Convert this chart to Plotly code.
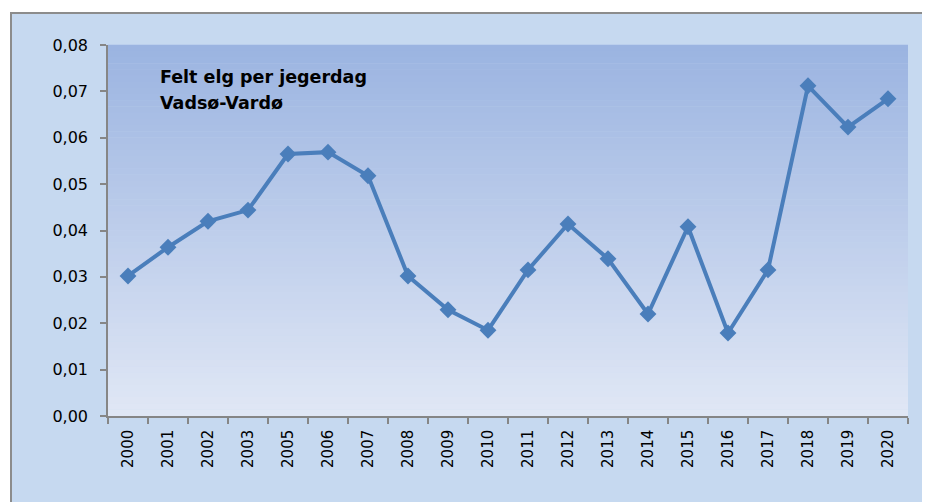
import plotly.graph_objects as go

years = ["2000", "2001", "2002", "2003", "2005", "2006", "2007", "2008", "2009", "2010",
         "2011", "2012", "2013", "2014", "2015", "2016", "2017", "2018", "2019", "2020"]
values = [0.0302, 0.0364, 0.0420, 0.0444, 0.0565, 0.0569, 0.0518, 0.0302, 0.0229, 0.0185,
          0.0315, 0.0414, 0.0339, 0.0220, 0.0408, 0.0179, 0.0315, 0.0712, 0.0623, 0.0684]
y_ticks = [0.00, 0.01, 0.02, 0.03, 0.04, 0.05, 0.06, 0.07, 0.08]
title_lines = ["Felt elg per jegerdag", "Vadsø-Vardø"]

OFF = 8  # page body margin
W, H = 930 - OFF, 502 - OFF
# target screen positions of plot area
SX0, SX1, SY0, SY1 = 108, 908, 45, 416
L, R, T, B = SX0 - OFF, W - (SX1 - OFF), SY0 - OFF, H - (SY1 - OFF)
pw, ph = W - L - R, H - T - B

def px_x(p):  # screen px -> paper x
    return (p - OFF - L) / pw

def px_y(p):  # screen px -> paper y
    return (H - B - (p - OFF)) / ph

FONT = "DejaVu Sans, Open Sans, sans-serif"

fig = go.Figure()
fig.add_trace(go.Scatter(
    x=years, y=values, mode="lines+markers",
    line=dict(color="#4a7ebb", width=4),
    marker=dict(symbol="diamond", size=13, color="#4a7ebb"),
    showlegend=False, cliponaxis=False,
))

shapes = []
shapes.append(dict(type="rect", xref="paper", yref="paper",
                   x0=px_x(11), x1=px_x(950), y0=px_y(530), y1=px_y(13),
                   fillcolor="#c6d9f0", line=dict(color="#8c8c8c", width=2), layer="below"))
top = (0x9b, 0xb4, 0xe1)
bot = (0xe0, 0xe7, 0xf5)
n = 60
for i in range(n):
    f = i / (n - 1)
    c = tuple(round(top[k] + (bot[k] - top[k]) * f) for k in range(3))
    shapes.append(dict(type="rect", xref="x domain", yref="y domain",
                       x0=0, x1=1, y0=1 - (i + 1) / n, y1=1 - i / n + 0.001,
                       fillcolor="rgb(%d,%d,%d)" % c, line=dict(width=0), layer="below"))

annotations = []
for i, line in enumerate(title_lines):
    annotations.append(dict(
        text="<b>" + line + "</b>",
        xref="paper", yref="paper", x=px_x(159), y=px_y(84 + 26 * i),
        xanchor="left", yanchor="bottom", align="left", showarrow=False,
        font=dict(size=17.5, color="#000000", family=FONT),
        borderpad=0, yshift=-4,
    ))

fig.update_layout(
    width=W, height=H,
    margin=dict(l=L, r=R, t=T, b=B, pad=0),
    paper_bgcolor="white",
    plot_bgcolor="rgba(0,0,0,0)",
    separators=", ",
    shapes=shapes,
    annotations=annotations,
    font=dict(family=FONT, color="#000000", size=15),
)
fig.update_xaxes(
    type="category", range=[-0.5, len(years) - 0.5], tickangle=-90,
    showline=True, linecolor="#868686", linewidth=1.5,
    ticks="outside", ticklen=6, tickcolor="#868686", tickwidth=1.5,
    tickson="boundaries", showgrid=False, zeroline=False,
    tickfont=dict(size=15), ticklabelstandoff=6,
)
fig.update_yaxes(
    range=[0, 0.08], tickvals=y_ticks, tickformat=".2f",
    showline=True, linecolor="#868686", linewidth=1.5,
    ticks="outside", ticklen=6, tickcolor="#868686", tickwidth=1.5,
    showgrid=False, zeroline=False, tickfont=dict(size=16), ticklabelstandoff=9,
)
fig.write_html("out.html")
